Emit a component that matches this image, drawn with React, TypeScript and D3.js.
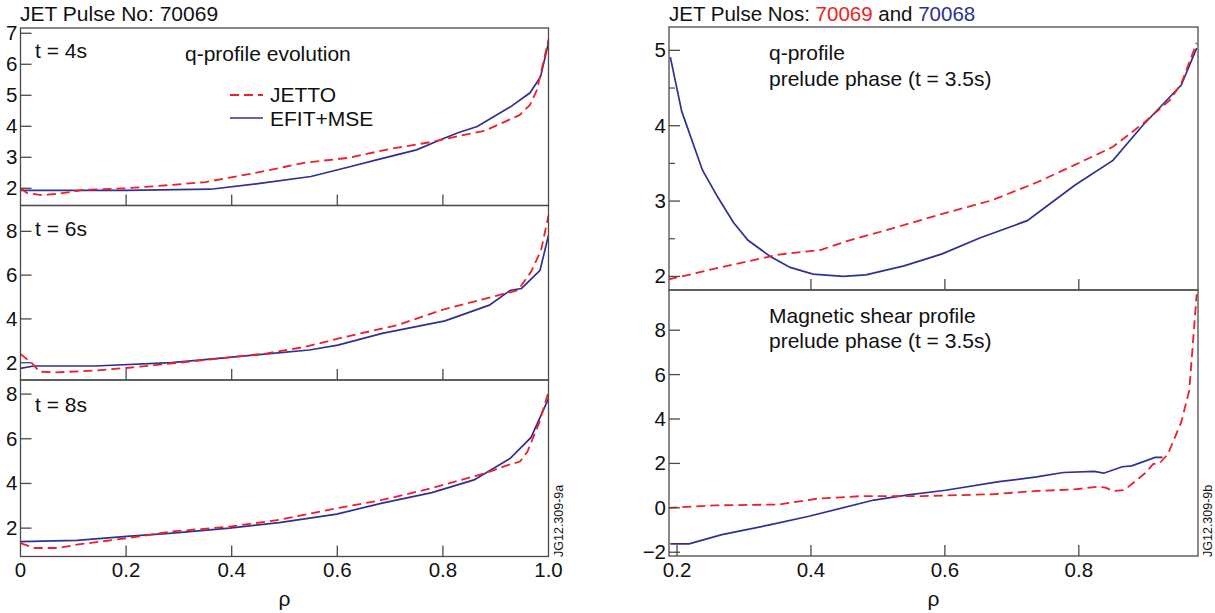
import React from "react";
import * as d3 from "d3";

// ---------- DATA ----------
// Left: q-profile evolution, pulse 70069 (rho, q)
const jetto4s: [number, number][] = [[0,2.0],[0.012,1.85],[0.04,1.78],[0.07,1.82],[0.12,1.95],[0.2,2.0],[0.28,2.1],[0.35,2.2],[0.44,2.48],[0.54,2.83],[0.62,2.98],[0.7,3.27],[0.78,3.5],[0.83,3.69],[0.88,3.86],[0.945,4.36],[0.965,4.69],[0.978,5.17],[0.988,5.9],[1.0,6.8]];
const efit4s: [number, number][] = [[0,1.93],[0.1,1.93],[0.2,1.93],[0.36,1.97],[0.45,2.15],[0.55,2.38],[0.62,2.68],[0.68,2.94],[0.75,3.24],[0.8,3.6],[0.83,3.8],[0.865,3.99],[0.93,4.65],[0.965,5.08],[0.985,5.6],[1.0,6.7]];
const jetto6s: [number, number][] = [[0,2.4],[0.022,1.97],[0.036,1.59],[0.069,1.56],[0.141,1.64],[0.214,1.79],[0.308,2.02],[0.395,2.24],[0.467,2.43],[0.54,2.73],[0.612,3.16],[0.714,3.72],[0.801,4.43],[0.917,5.16],[0.942,5.31],[0.967,6.15],[0.986,7.14],[1.0,8.73]];
const efit6s: [number, number][] = [[0,1.74],[0.025,1.85],[0.141,1.85],[0.286,2.0],[0.395,2.24],[0.467,2.4],[0.547,2.58],[0.601,2.8],[0.685,3.34],[0.804,3.91],[0.888,4.63],[0.928,5.31],[0.949,5.39],[0.984,6.22],[1.0,7.82]];
const jetto8s: [number, number][] = [[0,1.33],[0.027,1.11],[0.071,1.11],[0.107,1.26],[0.201,1.55],[0.288,1.85],[0.396,2.07],[0.49,2.37],[0.599,2.89],[0.685,3.26],[0.779,3.79],[0.88,4.46],[0.924,4.83],[0.946,4.98],[0.96,5.42],[0.982,6.69],[1.0,8.1]];
const efit8s: [number, number][] = [[0,1.4],[0.107,1.45],[0.201,1.63],[0.288,1.78],[0.396,2.0],[0.49,2.25],[0.599,2.63],[0.685,3.12],[0.779,3.59],[0.859,4.16],[0.928,5.13],[0.967,6.06],[1.0,7.8]];

// Right: prelude phase t = 3.5s
const qPrelude70069: [number, number][] = [[0.187,1.96],[0.255,2.1],[0.352,2.29],[0.414,2.35],[0.454,2.47],[0.511,2.61],[0.596,2.83],[0.67,3.01],[0.738,3.25],[0.794,3.48],[0.851,3.72],[0.896,4.03],[0.936,4.34],[0.953,4.56],[0.976,5.1]];
const qPrelude70068: [number, number][] = [[0.19,4.91],[0.207,4.19],[0.238,3.41],[0.261,3.05],[0.284,2.72],[0.306,2.48],[0.34,2.26],[0.369,2.12],[0.403,2.03],[0.448,2.0],[0.482,2.02],[0.539,2.14],[0.596,2.3],[0.652,2.51],[0.723,2.74],[0.794,3.21],[0.851,3.54],[0.896,4.01],[0.953,4.54],[0.976,5.03]];
const shear70069: [number, number][] = [[0.187,0.0],[0.255,0.11],[0.352,0.15],[0.409,0.41],[0.477,0.53],[0.567,0.53],[0.67,0.61],[0.738,0.76],[0.794,0.83],[0.828,0.95],[0.84,0.91],[0.851,0.76],[0.868,0.8],[0.882,1.14],[0.899,1.56],[0.911,1.97],[0.922,2.05],[0.933,2.42],[0.953,3.86],[0.965,5.3],[0.976,9.62]];
const shear70068: [number, number][] = [[0.19,-1.62],[0.218,-1.62],[0.267,-1.21],[0.34,-0.76],[0.397,-0.38],[0.494,0.35],[0.545,0.58],[0.601,0.79],[0.681,1.18],[0.737,1.39],[0.777,1.59],[0.823,1.64],[0.837,1.56],[0.865,1.85],[0.879,1.89],[0.914,2.27],[0.925,2.27]];

const leftXTicks = [0, 0.2, 0.4, 0.6, 0.8, 1.0];
const leftXTickLabels = ["0", "0.2", "0.4", "0.6", "0.8", "1.0"];
const rightXTicks = [0.2, 0.4, 0.6, 0.8];
const ticksQ4 = [2, 3, 4, 5, 6, 7];
const ticksQ6 = [2, 4, 6, 8];
const ticksQ8 = [2, 4, 6, 8];
const ticksQPrelude = [2, 3, 4, 5];
const minorQPrelude = [2.5, 3.5, 4.5];
const ticksShear = [-2, 0, 2, 4, 6, 8];

const RED = "#ee1f26";
const BLUE = "#2e3192";
const FRAME = "#4a4a4a";
const FONT = "'Liberation Sans', Arial, Helvetica, sans-serif";
const TXT = 21;

type PanelProps = {
  id: string;
  x: d3.ScaleLinear<number, number>;
  y: d3.ScaleLinear<number, number>;
  yTicks: number[];
  minorY?: number[];
  xTicksInside: number[];
  red: [number, number][];
  blue: [number, number][];
};

function Panel({ id, x, y, yTicks, minorY, xTicksInside, red, blue }: PanelProps) {
  const [x0, x1] = x.range();
  const [yb, yt] = y.range();
  const line = d3.line<[number, number]>().x((d) => x(d[0])).y((d) => y(d[1]));
  const fmt = (v: number) => (v < 0 ? "\u2212" + Math.abs(v) : String(v));
  return (
    <g>
      <defs>
        <clipPath id={id}>
          <rect x={x0} y={yt} width={x1 - x0} height={yb - yt} />
        </clipPath>
      </defs>
      <g clipPath={`url(#${id})`}>
        <path d={line(blue) || ""} fill="none" stroke={BLUE} strokeWidth={1.7} />
        <path d={line(red) || ""} fill="none" stroke={RED} strokeWidth={1.8} strokeDasharray="9,5" />
      </g>
      <rect x={x0} y={yt} width={x1 - x0} height={yb - yt} fill="none" stroke={FRAME} strokeWidth={1.3} />
      {yTicks.map((t) => (
        <g key={"yt" + t}>
          <line x1={x0} x2={x0 + 11} y1={y(t)} y2={y(t)} stroke={FRAME} strokeWidth={1.3} />
          <text x={x0 - 3} y={y(t) + 7} textAnchor="end" fontSize={20.5} fontFamily={FONT} fill="#111">
            {fmt(t)}
          </text>
        </g>
      ))}
      {(minorY || []).map((t) => (
        <line key={"my" + t} x1={x0} x2={x0 + 6} y1={y(t)} y2={y(t)} stroke={FRAME} strokeWidth={1.2} />
      ))}
      {xTicksInside.map((t) => (
        <line key={"xt" + t} x1={x(t)} x2={x(t)} y1={yb} y2={yb - 11} stroke={FRAME} strokeWidth={1.3} />
      ))}
    </g>
  );
}

export default function App() {
  // Left column
  const xL = d3.scaleLinear().domain([0, 1]).range([20.5, 548.5]);
  const yL1 = d3.scaleLinear().domain([1.445, 7.17]).range([205.5, 28]);
  const yL2 = d3.scaleLinear().domain([1.21, 9.18]).range([380, 205.5]);
  const yL3 = d3.scaleLinear().domain([0.73, 8.63]).range([556.5, 380]);
  // Right column
  const xR = d3.scaleLinear().domain([0.188, 0.978]).range([669, 1198]);
  const yRq = d3.scaleLinear().domain([1.82, 5.31]).range([290, 27]);
  const yRs = d3.scaleLinear().domain([-2.17, 9.81]).range([556, 290]);

  const innerL = [0.2, 0.4, 0.6, 0.8];
  const innerR = [0.4, 0.6, 0.8];

  return (
    <svg
      width={1215}
      height={613}
      style={{ position: "absolute", left: 0, top: 0, background: "#fff" }}
      fontFamily={FONT}
    >
      <rect x={0} y={0} width={1215} height={613} fill="#fff" />

      {/* Left column */}
      <text x={20} y={21} fontSize={TXT} fill="#111">JET Pulse No: 70069</text>
      <Panel id="cL1" x={xL} y={yL1} yTicks={ticksQ4} xTicksInside={innerL} red={jetto4s} blue={efit4s} />
      <Panel id="cL2" x={xL} y={yL2} yTicks={ticksQ6} xTicksInside={innerL} red={jetto6s} blue={efit6s} />
      <Panel id="cL3" x={xL} y={yL3} yTicks={ticksQ8} xTicksInside={innerL} red={jetto8s} blue={efit8s} />
      <text x={35} y={58} fontSize={TXT} fill="#111">t = 4s</text>
      <text x={35} y={236} fontSize={TXT} fill="#111">t = 6s</text>
      <text x={35} y={412} fontSize={TXT} fill="#111">t = 8s</text>
      <text x={185} y={61} fontSize={TXT} fill="#111">q-profile evolution</text>
      <line x1={230} x2={263} y1={95} y2={95} stroke={RED} strokeWidth={1.8} strokeDasharray="9,5" />
      <text x={270} y={102} fontSize={TXT} fill="#111">JETTO</text>
      <line x1={230} x2={263} y1={118} y2={118} stroke={BLUE} strokeWidth={1.7} />
      <text x={270} y={126} fontSize={TXT} fill="#111">EFIT+MSE</text>
      {leftXTicks.map((t, i) => (
        <text key={"lx" + t} x={xL(t)} y={577} textAnchor="middle" fontSize={20.5} fill="#111">
          {leftXTickLabels[i]}
        </text>
      ))}
      <text x={(xL(0) + xL(1)) / 2} y={606} textAnchor="middle" fontSize={TXT} fill="#111">ρ</text>
      <text transform={`translate(563,557) rotate(-90)`} fontSize={12.5} fill="#111">JG12.309-9a</text>

      {/* Right column */}
      <text x={669} y={21} fontSize={20.5} fill="#111">
        JET Pulse Nos: <tspan fill={RED}>70069</tspan> and <tspan fill={BLUE}>70068</tspan>
      </text>
      <Panel id="cR1" x={xR} y={yRq} yTicks={ticksQPrelude} minorY={minorQPrelude} xTicksInside={innerR} red={qPrelude70069} blue={qPrelude70068} />
      <Panel id="cR2" x={xR} y={yRs} yTicks={ticksShear} xTicksInside={rightXTicks} red={shear70069} blue={shear70068} />
      <text x={769} y={60} fontSize={TXT} fill="#111">q-profile</text>
      <text x={769} y={86} fontSize={TXT} fill="#111">prelude phase (t = 3.5s)</text>
      <text x={769} y={323} fontSize={TXT} fill="#111">Magnetic shear profile</text>
      <text x={769} y={348} fontSize={TXT} fill="#111">prelude phase (t = 3.5s)</text>
      {rightXTicks.map((t) => (
        <text key={"rx" + t} x={xR(t)} y={577} textAnchor="middle" fontSize={20.5} fill="#111">
          {t.toFixed(1)}
        </text>
      ))}
      <text x={(xR.range()[0] + xR.range()[1]) / 2} y={606} textAnchor="middle" fontSize={TXT} fill="#111">ρ</text>
      <text transform={`translate(1212,557) rotate(-90)`} fontSize={12.5} fill="#111">JG12.309-9b</text>
    </svg>
  );
}
